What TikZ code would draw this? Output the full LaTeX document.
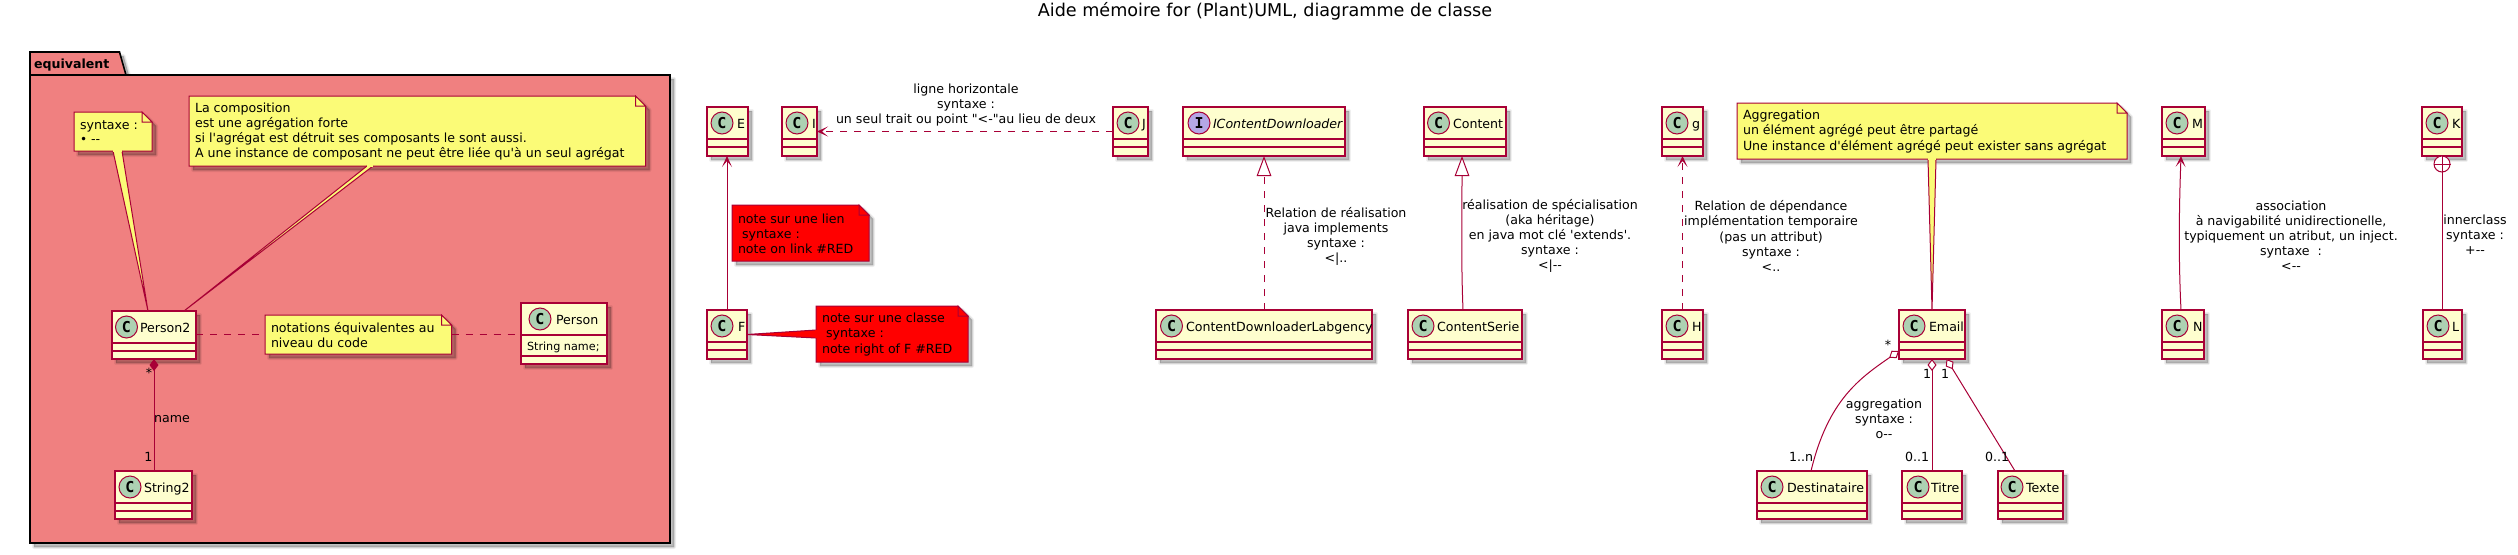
\documentclass[tikz,border=0pt]{standalone}
\usepackage{fontspec}
\setmainfont{DejaVu Sans}[Ligatures=TeXOff]
\newfontfamily\spotfont{DejaVu Sans Mono}
\usetikzlibrary{arrows.meta}
\definecolor{crim}{HTML}{A80036}
\definecolor{classfill}{HTML}{FEFECE}
\definecolor{notefill}{HTML}{FBFB77}
\definecolor{spotC}{HTML}{ADD1B2}
\definecolor{spotI}{HTML}{B4A7E5}
\definecolor{pkgfill}{HTML}{F08080}
\def\spotletter{C}
\def\spotcolor{spotC}
\tikzset{
  every node/.style={font=\fontsize{12.6}{15.1}\selectfont,text=black},
  classnode/.style={draw=crim,fill=classfill,line width=1.4pt,anchor=north west,inner sep=0pt,outer sep=0pt},
  sepline/.style={draw=crim,line width=1.4pt},
  spotnode/.style={circle,draw=crim,line width=1pt,minimum size=22pt,inner sep=0pt,font=\fontsize{15}{15}\spotfont\bfseries\selectfont},
  txt/.style={inner sep=0pt,outer sep=0pt},
  lbl/.style={txt,align=center},
  noteline/.style={draw=crim,line width=1pt,line join=miter},
  link/.style={draw=crim,line width=1pt},
  dashlink/.style={link,dash pattern=on 7pt off 7pt},
  headopen/.style={-{Stealth[length=11pt,width=10pt,inset=6pt]}},
  headtri/.style={-{Triangle[length=20pt,width=14.6pt,fill=white]}},
  headcomp/.style={{Diamond[length=12pt,width=9pt,fill=crim]}-},
  headaggr/.style={{Diamond[length=12pt,width=9pt,fill=white]}-},
}
\newcommand{\softshadow}[1]{%
  \begin{scope}[shift={(4,4)}]
    \fill[black,opacity=.24] #1;
    \foreach \w in {1,2.5,4}{\draw[black,opacity=.06,line width=\w pt,line join=round] #1;}
  \end{scope}}
% [second separator offset]{name}{x1}{y1}{x2}{y2}{spot x}{label x}{label}
\newcommand{\classbox}[9][40]{%
  \softshadow{(#3,#4) rectangle (#5,#6)}
  \node[classnode,minimum width={(#5-#3)*1pt},minimum height={(#6-#4)*1pt}] (#2) at (#3,#4) {};
  \draw[sepline] (#3,#4+32) -- (#5,#4+32);
  \draw[sepline] (#3,#4+#1) -- (#5,#4+#1);
  \node[spotnode,fill=\spotcolor] (#2-spot) at (#7,#4+16) {\spotletter};
  \node[txt,anchor=base west] (#2-name) at (#8,#4+21) {#9};
}
% {name}{x1}{y1}{x2}{y2}{fill}{text}
\newcommand{\notebox}[7]{%
  \softshadow{(#2,#3) -- (#4-10,#3) -- (#4,#3+10) -- (#4,#5) -- (#2,#5) -- cycle}
  \filldraw[noteline,fill=#6] (#2,#3) -- (#4-10,#3) -- (#4,#3+10) -- (#4,#5) -- (#2,#5) -- cycle;
  \filldraw[noteline,fill=#6] (#4-10,#3) -- (#4-10,#3+10) -- (#4,#3+10) -- cycle;
  \node[inner sep=0pt,outer sep=0pt,anchor=north west,minimum width={(#4-#2)*1pt},minimum height={(#5-#3)*1pt}] (#1) at (#2,#3) {};
  \node[txt,align=left,anchor=west] (#1-text) at (#2+6,{(#3+#5)/2+0.5}) {#7};
}
% {fill}{base a}{base b}{tip}
\newcommand{\notetail}[4]{%
  \filldraw[noteline,fill=#1] #2 -- #4 -- #3;
  \draw[#1,line width=1.4pt] #2 -- #3;
}
\begin{document}
\begin{tikzpicture}[x=1pt,y=-1pt]
\useasboundingbox (0,0) rectangle (2518,554);

\node[font=\fontsize{17.6}{20}\selectfont] (title) at (1265,11) {Aide mémoire for (Plant)UML, diagramme de classe};

% package
\softshadow{(30,52) -- (119.5,52) -- (126,75) -- (670,75) -- (670,543) -- (30,543) -- cycle}
\filldraw[draw=black,fill=pkgfill,line width=1.6pt] (30,52) -- (119.5,52) -- (126,75) -- (670,75) -- (670,543) -- (30,543) -- cycle;
\draw[black,line width=1.6pt] (30,75) -- (126,75);
\node[txt,anchor=base west,font=\fontsize{12.6}{15}\bfseries\selectfont] (pkgname) at (34,68) {equivalent};

% classes
\classbox{Person2}{112}{311}{196}{359}{126.5}{140}{Person2}
\classbox{String2}{115}{471}{192}{519}{130}{144}{String2}
\classbox[53]{Person}{521}{303}{607}{364}{540}{556}{Person}
\node[txt,anchor=base west,font=\fontsize{11.2}{13}\selectfont] (Person-attr) at (527,350) {String name;};

\classbox{E}{707}{107}{748}{156}{722}{737}{E}
\classbox{F}{707}{310}{747}{359}{722}{738}{F}
\classbox{I}{782}{107}{817}{156}{797}{812}{I}
\classbox{J}{1113}{107}{1148}{156}{1128}{1142}{J}
\begin{scope}
\def\spotletter{I}\def\spotcolor{spotI}
\classbox{IContentDownloader}{1183}{107}{1345}{156}{1199}{1213}{\textit{IContentDownloader}}
\end{scope}
\classbox{ContentDownloaderLabgency}{1156}{310}{1372}{359}{1171.5}{1186}{ContentDownloaderLabgency}
\classbox{Content}{1424}{107}{1506}{156}{1438.5}{1453}{Content}
\classbox{ContentSerie}{1408}{310}{1522}{359}{1423}{1437}{ContentSerie}
\classbox{g}{1662}{107}{1703}{156}{1677}{1692}{g}
\classbox{H}{1662}{310}{1703}{359}{1677}{1692}{H}
\classbox{Email}{1899}{310}{1965}{359}{1914}{1929}{Email}
\classbox{Destinataire}{1757}{471}{1867}{519}{1772}{1787}{Destinataire}
\classbox{Titre}{1902}{471}{1962}{519}{1918}{1931}{Titre}
\classbox{Texte}{1998}{471}{2063}{519}{2012}{2026}{Texte}
\classbox{M}{2162}{107}{2205}{156}{2177}{2192}{M}
\classbox{N}{2162}{310}{2204}{359}{2177}{2193}{N}
\classbox{K}{2422}{107}{2462}{156}{2437}{2452}{K}
\classbox{L}{2423}{310}{2462}{359}{2438}{2452}{L}

% notes
\notebox{noteSyntaxe}{74}{112}{152}{151}{notefill}{syntaxe :\\[-0.5pt]{\large\textbullet}{} -{}-}
\notebox{noteCompo}{189}{96}{645.5}{166}{notefill}{La composition\\est une agrégation forte\\si l'agrégat est détruit ses composants le sont aussi.\\A une instance de composant ne peut être liée qu'à un seul agrégat}
\notebox{noteEquiv}{265}{315}{451.5}{354}{notefill}{notations équivalentes au\\niveau du code}
\notebox{noteLink}{732}{205}{869}{261}{red}{note sur une lien\\\hspace*{4pt}syntaxe :\\note on link \#RED}
\notebox{noteF}{816}{306}{968}{362}{red}{note sur une classe\\\hspace*{4pt}syntaxe :\\note right of F \#RED}
\notebox{noteAggr}{1737}{103}{2127}{159}{notefill}{Aggregation\\un élément agrégé peut être partagé\\Une instance d'élément agrégé peut exister sans agrégat}

\notetail{notefill}{([xshift=39pt]noteSyntaxe.south west)}{([xshift=48pt]noteSyntaxe.south west)}{([xshift=-6pt]Person2.north)}
\notetail{notefill}{([xshift=178pt]noteCompo.south west)}{([xshift=184pt]noteCompo.south west)}{([xshift=30pt]Person2.north)}
\notetail{notefill}{([xshift=191pt]noteAggr.south west)}{([xshift=199pt]noteAggr.south west)}{(Email.north)}
\notetail{red}{([yshift=4pt]noteF.west)}{([yshift=-4pt]noteF.west)}{(F.east)}

% links
\draw[link,headcomp] (Person2.south) -- (Person2.south |- String2.north);
\draw[dashlink] (Person2.east |- noteEquiv.west) -- (noteEquiv.west);
\draw[dashlink] (noteEquiv.east) -- (Person.west |- noteEquiv.east);
\draw[link,headopen] (F.north) -- (F.north |- E.south);
\draw[dashlink,headopen] (J.west) -- (I.east);
\draw[dashlink,headtri] (ContentDownloaderLabgency.north) -- (IContentDownloader.south);
\draw[link,headtri] ([xshift=-2pt]ContentSerie.north) .. controls (1461,260) and (1462,215) .. ([xshift=-3pt]Content.south);
\draw[dashlink,headopen] (H.north) -- (g.south);
\draw[link,headaggr] ([yshift=8pt]Email.south west) .. controls (1860,378) and (1828,400) .. ([xshift=-1pt]Destinataire.north |- Destinataire.north);
\draw[link,headaggr] (Email.south) -- (Email.south |- Titre.north);
\draw[link,headaggr] ([xshift=14.5pt]Email.south) -- ([xshift=-15.5pt]Texte.north);
\draw[link,headopen] ([xshift=-2pt]N.north) .. controls (2178.5,260) and (2179,210) .. ([xshift=-2.5pt]M.south);

\node[circle,draw=crim,fill=white,line width=1pt,minimum size=16pt,inner sep=0pt] (plus) at (K.south |- 0,164) {};
\draw[link] (plus.north) -- (plus.south);
\draw[link] (plus.west) -- (plus.east);
\draw[link] (plus.south) -- (plus.south |- L.north);

% link labels
\node[lbl] (lblName) at (172,419) {name};
\node[txt] (cardA) at (149,373) {*};
\node[txt] (cardB) at (148.5,457) {1};
\node[lbl] (lblIJ) at (966,105) {ligne horizontale\\syntaxe :\\un seul trait ou point "<-"au lieu de deux};
\node[lbl] (lblReal) at (1336,236.5) {Relation de réalisation\\java implements\\syntaxe :\\<|..};
\node[lbl] (lblSpec) at (1550,236) {réalisation de spécialisation\\(aka héritage)\\en java mot clé 'extends'.\\syntaxe :\\<|-{}-};
\node[lbl] (lblDep) at (1771,236) {Relation de dépendance\\implémentation temporaire\\(pas un attribut)\\syntaxe :\\<..};
\node[lbl] (lblAggr) at (1884,419) {aggregation\\syntaxe :\\o-{}-};
\node[txt] (cardC) at (1888,345) {*};
\node[txt] (cardD) at (1801,457) {1..n};
\node[txt] (cardE) at (1927,374) {1};
\node[txt] (cardF) at (1917,457) {0..1};
\node[txt] (cardG) at (1945,374) {1};
\node[txt] (cardH) at (1997,457) {0..1};
\node[lbl] (lblAssoc) at (2291,236) {association\\à navigabilité unidirectionelle,\\typiquement un atribut, un inject.\\syntaxe\ \ :\\<-{}-};
\node[lbl] (lblInner) at (2475,235) {innerclass\\syntaxe :\\+-{}-};
\end{tikzpicture}
\end{document}
